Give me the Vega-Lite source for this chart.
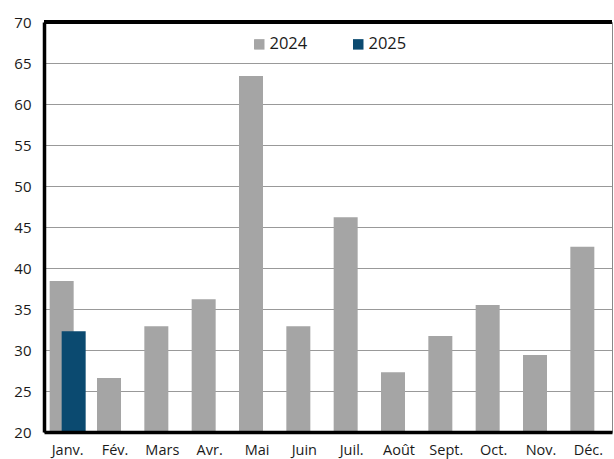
{
  "$schema": "https://vega.github.io/schema/vega-lite/v6.json",
  "width": 568,
  "height": 410,
  "autosize": {"type": "none"},
  "padding": {"left": 44, "top": 22, "right": 2, "bottom": 27},
  "config": {
    "font": "Open Sans",
    "view": {"stroke": "#888888", "strokeWidth": 1}
  },
  "data": {
    "values": [
      {"mois": "Janv.", "annee": "2024", "valeur": 38.4},
      {"mois": "Janv.", "annee": "2025", "valeur": 32.3},
      {"mois": "Fév.", "annee": "2024", "valeur": 26.6},
      {"mois": "Mars", "annee": "2024", "valeur": 32.9},
      {"mois": "Avr.", "annee": "2024", "valeur": 36.2},
      {"mois": "Mai", "annee": "2024", "valeur": 63.4},
      {"mois": "Juin", "annee": "2024", "valeur": 32.9},
      {"mois": "Juil.", "annee": "2024", "valeur": 46.2},
      {"mois": "Août", "annee": "2024", "valeur": 27.3},
      {"mois": "Sept.", "annee": "2024", "valeur": 31.7},
      {"mois": "Oct.", "annee": "2024", "valeur": 35.5},
      {"mois": "Nov.", "annee": "2024", "valeur": 29.4},
      {"mois": "Déc.", "annee": "2024", "valeur": 42.6}
    ]
  },
  "encoding": {
    "x": {
      "field": "mois",
      "type": "ordinal",
      "sort": ["Janv.", "Fév.", "Mars", "Avr.", "Mai", "Juin", "Juil.", "Août", "Sept.", "Oct.", "Nov.", "Déc."],
      "scale": {"paddingInner": 0, "paddingOuter": 0},
      "axis": {
        "title": null,
        "labelAngle": 0,
        "labelFontSize": 14.5,
        "labelColor": "#1a1a1a",
        "labelPadding": 11,
        "ticks": false,
        "domain": true,
        "domainColor": "#000000",
        "domainWidth": 3.5,
        "grid": false,
        "zindex": 1
      }
    },
    "y": {
      "field": "valeur",
      "type": "quantitative",
      "scale": {"domain": [20, 70], "zero": false, "nice": false},
      "axis": {
        "title": null,
        "values": [20, 25, 30, 35, 40, 45, 50, 55, 60, 65, 70],
        "labelFontSize": 15,
        "labelColor": "#1a1a1a",
        "labelPadding": 13,
        "ticks": false,
        "domainColor": "#000000",
        "domainWidth": 3.5,
        "grid": true,
        "gridColor": "#333333",
        "gridDash": [1, 1],
        "gridWidth": 1,
        "zindex": 0
      }
    },
    "color": {
      "field": "annee",
      "type": "nominal",
      "scale": {"domain": ["2024", "2025"], "range": ["#a5a5a5", "#0b4a70"]},
      "legend": {
        "title": null,
        "orient": "none",
        "direction": "horizontal",
        "legendX": 207,
        "legendY": 14,
        "symbolType": "square",
        "symbolSize": 110,
        "symbolStrokeWidth": 0,
        "labelFontSize": 16.5,
        "labelColor": "#1a1a1a",
        "labelOffset": 2,
        "columnPadding": 42
      }
    }
  },
  "layer": [
    {
      "transform": [{"filter": "datum.annee == '2024'"}],
      "mark": {"type": "bar", "size": 24, "xOffset": -6, "clip": true}
    },
    {
      "transform": [{"filter": "datum.annee == '2025'"}],
      "mark": {"type": "bar", "size": 24, "xOffset": 6, "clip": true}
    },
    {
      "mark": {"type": "rule", "color": "#000000", "strokeWidth": 3.5},
      "encoding": {"y": {"datum": 70}, "x": null, "color": null}
    }
  ]
}
